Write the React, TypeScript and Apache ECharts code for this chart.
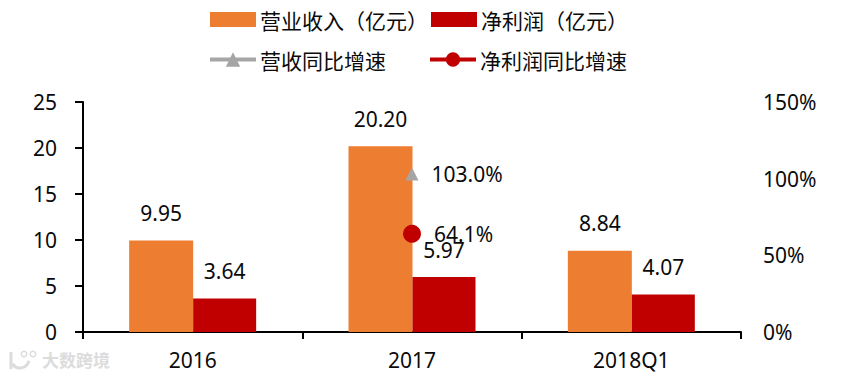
import React, { useEffect, useRef } from "react";
import * as echarts from "echarts";

const categories = ["2016", "2017", "2018Q1"];
const revenue = [9.95, 20.2, 8.84];
const profit = [3.64, 5.97, 4.07];
const revenueGrowth = [null, 103.0, null];
const profitGrowth = [null, 64.1, null];
const leftTicks = { min: 0, max: 25, interval: 5 };
const rightTicks = { min: 0, max: 150, interval: 50 };
const watermark = "大数跨境";

const FONT = '"Noto Sans", "Noto Sans CJK SC", sans-serif';
const ORANGE = "#ED7D31";
const RED = "#C00000";
const GRAY = "#A5A5A5";
const TEXT = "#0a0a0a";
const FS = 21;

export default function App() {
  const ref = useRef<HTMLDivElement>(null);
  useEffect(() => {
    document.body.style.margin = "0";
    const chart = echarts.init(ref.current!, undefined, { renderer: "svg" });
    const barLabel = {
      show: true,
      position: "top" as const,
      distance: 17,
      fontSize: FS,
      fontFamily: FONT,
      color: TEXT,
      formatter: (p: any) => p.value.toFixed(2),
    };
    const lineLabel = {
      show: true,
      position: "right" as const,
      distance: 13,
      fontSize: FS,
      fontFamily: FONT,
      color: TEXT,
      formatter: (p: any) => p.value.toFixed(1) + "%",
    };
    const legendText = { fontSize: FS, fontFamily: '"Noto Sans CJK SC", sans-serif', color: TEXT };
    chart.setOption({
      animation: false,
      backgroundColor: "#fff",
      grid: { left: 83, right: 123, top: 102, bottom: 45 },
      legend: [
        {
          left: 210,
          top: 9,
          itemWidth: 46,
          itemHeight: 15,
          itemGap: 3,
          padding: 0,
          textStyle: { ...legendText, padding: [0, 0, 0, -1] },
          data: [
            { name: "营业收入（亿元）", icon: "rect" },
            { name: "净利润（亿元）", icon: "rect" },
          ],
        },
        {
          left: 208,
          top: 49,
          itemWidth: 46,
          itemHeight: 18,
          itemGap: 42,
          padding: 0,
          lineStyle: { width: 4 },
          textStyle: { ...legendText, padding: [0, 0, 0, -1] },
          data: ["营收同比增速", "净利润同比增速"],
        },
      ],
      xAxis: {
        type: "category",
        data: categories,
        axisLine: { lineStyle: { color: "#000", width: 2 } },
        axisTick: { show: true, length: 7, alignWithLabel: false, lineStyle: { color: "#000", width: 2 } },
        axisLabel: { fontSize: FS, fontFamily: FONT, color: TEXT, margin: 17 },
      },
      yAxis: [
        {
          type: "value",
          ...leftTicks,
          splitLine: { show: false },
          axisLine: { show: true, lineStyle: { color: "#000", width: 2 } },
          axisTick: { show: true, length: 8, lineStyle: { color: "#000", width: 2 } },
          axisLabel: { fontSize: FS, fontFamily: FONT, color: TEXT, margin: 26 },
        },
        {
          type: "value",
          ...rightTicks,
          position: "right",
          splitLine: { show: false },
          axisLine: { show: false },
          axisTick: { show: false },
          axisLabel: { fontSize: FS, fontFamily: FONT, color: TEXT, margin: 22, formatter: "{value}%" },
        },
      ],
      series: [
        {
          name: "营业收入（亿元）",
          type: "bar",
          data: revenue,
          barWidth: 64,
          barGap: 0,
          itemStyle: { color: ORANGE },
          label: barLabel,
        },
        {
          name: "净利润（亿元）",
          type: "bar",
          data: profit,
          barWidth: 63,
          barGap: 0,
          itemStyle: { color: RED },
          label: barLabel,
        },
        {
          name: "营收同比增速",
          type: "line",
          yAxisIndex: 1,
          data: revenueGrowth,
          symbol: "triangle",
          symbolSize: 13,
          itemStyle: { color: GRAY },
          lineStyle: { color: GRAY, width: 4 },
          label: lineLabel,
        },
        {
          name: "净利润同比增速",
          type: "line",
          yAxisIndex: 1,
          data: profitGrowth,
          symbol: "circle",
          symbolSize: 18,
          itemStyle: { color: RED },
          lineStyle: { color: RED, width: 4 },
          label: lineLabel,
        },
      ],
      graphic: [
        {
          type: "text",
          left: 42,
          top: 351,
          silent: true,
          style: { text: watermark, fontSize: 17, fontFamily: '"Noto Sans CJK SC", sans-serif', fontWeight: 700, fill: "#dcdcdc" },
        },
        { type: "ring", shape: { cx: 33, cy: 354, r: 3.5, r0: 2 }, style: { fill: "#dcdcdc" }, silent: true },
        { type: "ring", shape: { cx: 24, cy: 354, r: 3.5, r0: 2 }, style: { fill: "#dcdcdc" }, silent: true },
        { type: "arc", shape: { cx: 20, cy: 359, r: 9, startAngle: 0.2, endAngle: 2.6 }, style: { stroke: "#dcdcdc", lineWidth: 3, fill: "none" }, silent: true },
        { type: "line", shape: { x1: 11, y1: 352, x2: 11, y2: 369 }, style: { stroke: "#dcdcdc", lineWidth: 3 }, silent: true },
      ],
    });
    return () => chart.dispose();
  }, []);
  return <div ref={ref} style={{ width: 864, height: 377 }} />;
}
